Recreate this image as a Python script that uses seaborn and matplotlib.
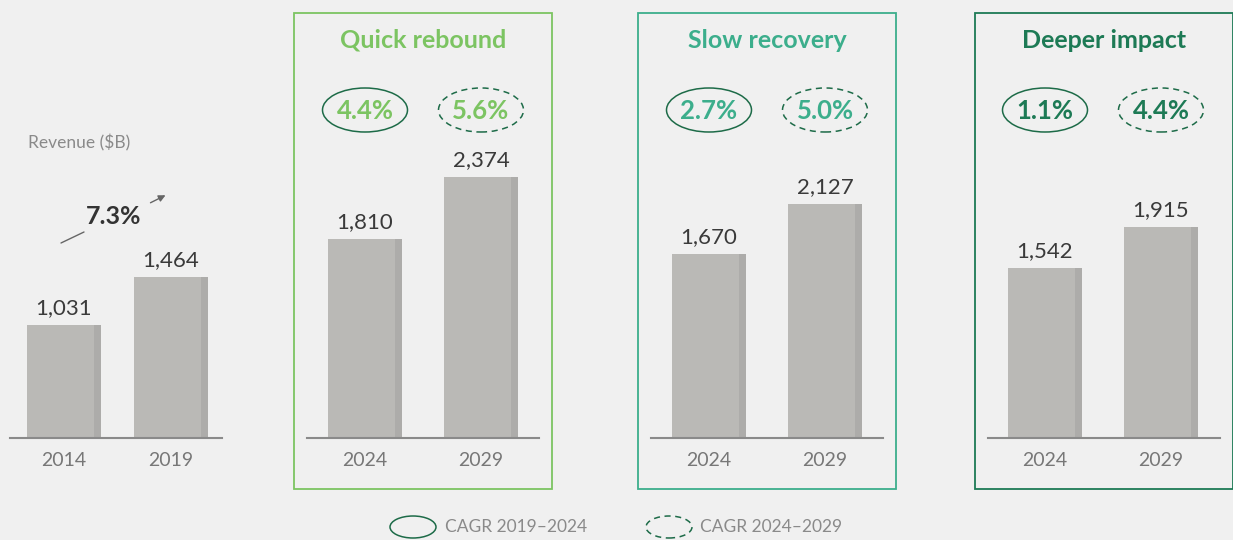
import matplotlib
matplotlib.use('Agg')
import matplotlib.pyplot as plt
from matplotlib.patches import Ellipse, Rectangle, FancyArrowPatch
from matplotlib.lines import Line2D
import seaborn as sns
import pandas as pd

hist_years = ['2014', '2019']
hist_revenue = [1031, 1464]
hist_cagr = '7.3%'
scenarios = ['Quick rebound', 'Slow recovery', 'Deeper impact']
forecast_years = ['2024', '2029']
quick_revenue = [1810, 2374]
slow_revenue = [1670, 2127]
deeper_revenue = [1542, 1915]
cagr_2019_2024 = ['4.4%', '2.7%', '1.1%']
cagr_2024_2029 = ['5.6%', '5.0%', '4.4%']
scenario_colors = ['#7cc462', '#3cae8c', '#1d7a55']

W, H = 1233, 540
sns.set_theme(style='white', rc={'figure.facecolor': '#f0f0f0', 'axes.facecolor': 'none'})
plt.rcParams['font.family'] = ['Lato', 'DejaVu Sans']

fig = plt.figure(figsize=(W / 100, H / 100), dpi=100)
inch = fig.dpi_scale_trans


def px(x, y):
    return (x / 100, (H - y) / 100)


def draw_panel(left, right, c0, c1, years, values):
    step = c1 - c0
    ax = fig.add_axes([left / W, 102 / H, (right - left) / W, 286 / H])
    df = pd.DataFrame({'year': years, 'revenue': values})
    sns.barplot(data=df, x='year', y='revenue', color='#bab9b6', saturation=1,
                width=74 / step, linewidth=0, edgecolor='none', ax=ax)
    # darker strip on the right edge of each bar
    for p in list(ax.patches):
        sw = p.get_width() * 0.095
        ax.add_patch(Rectangle((p.get_x() + p.get_width() - sw, 0), sw, p.get_height(),
                               facecolor='#adacaa', edgecolor='none', lw=0))
    ax.bar_label(ax.containers[0], labels=[f'{v:,}' for v in values], padding=5,
                 fontsize=16, color='#3a3a3a')
    ax.set_xlim((left - c0) / step, (right - c0) / step)
    ax.set_ylim(0, 2600)
    ax.set_yticks([])
    ax.set_xlabel('')
    ax.set_ylabel('')
    for s in ['left', 'right', 'top']:
        ax.spines[s].set_visible(False)
    ax.spines['bottom'].set_color('#8a8a8a')
    ax.spines['bottom'].set_linewidth(1.5)
    ax.tick_params(axis='x', length=0, pad=10, labelsize=14, labelcolor='#777777')
    return ax


# historical panel
draw_panel(10, 222, 64, 171, hist_years, hist_revenue)
fig.text(*px(28, 143), 'Revenue ($B)', transform=inch, ha='left', va='center',
         fontsize=12.5, color='#8a8a8a')
fig.text(*px(114, 216), hist_cagr, transform=inch, ha='center', va='center',
         fontsize=18, fontweight='bold', color='#333333')
fig.add_artist(Line2D([61 / 100, 84 / 100], [(H - 243) / 100, (H - 232) / 100],
                      transform=inch, color='#666666', lw=1))
fig.add_artist(FancyArrowPatch(px(148, 204), px(168, 194), transform=inch,
                               arrowstyle='-|>,head_length=4,head_width=2',
                               color='#666666', lw=1))

# scenario panels
box_lefts = [294, 638, 975]
axis_spans = [(307, 539), (651, 883), (988, 1220)]
centers = [(365, 481), (709, 825), (1045, 1161)]
values = [quick_revenue, slow_revenue, deeper_revenue]

for i, name in enumerate(scenarios):
    col = scenario_colors[i]
    fig.add_artist(Rectangle(px(box_lefts[i], 489), 2.58, 4.76, transform=inch,
                             fill=False, edgecolor=col, lw=1.3))
    fig.text(*px(box_lefts[i] + 129, 40), name, transform=inch, ha='center', va='center',
             fontsize=18, fontweight='bold', color=col)
    draw_panel(axis_spans[i][0], axis_spans[i][1], centers[i][0], centers[i][1],
               forecast_years, values[i])
    for cx, txt, ls in [(centers[i][0], cagr_2019_2024[i], '-'),
                        (centers[i][1], cagr_2024_2029[i], (0, (4, 3)))]:
        fig.add_artist(Ellipse(px(cx, 110), 0.85, 0.44, transform=inch, fill=False,
                               edgecolor='#1d6b48', lw=1.1, linestyle=ls))
        fig.text(*px(cx, 111), txt, transform=inch, ha='center', va='center',
                 fontsize=18.5, fontweight='bold', color=col)

# legend
for cx, tx, label, ls in [(413, 445, 'CAGR 2019–2024', '-'),
                          (669, 700, 'CAGR 2024–2029', (0, (4, 3)))]:
    fig.add_artist(Ellipse(px(cx, 527), 0.46, 0.22, transform=inch, fill=False,
                           edgecolor='#1d6b48', lw=1.1, linestyle=ls))
    fig.text(*px(tx, 527), label, transform=inch, ha='left', va='center',
             fontsize=12.5, color='#8a8a8a')

fig.savefig('out.png', dpi=100, facecolor=fig.get_facecolor())
